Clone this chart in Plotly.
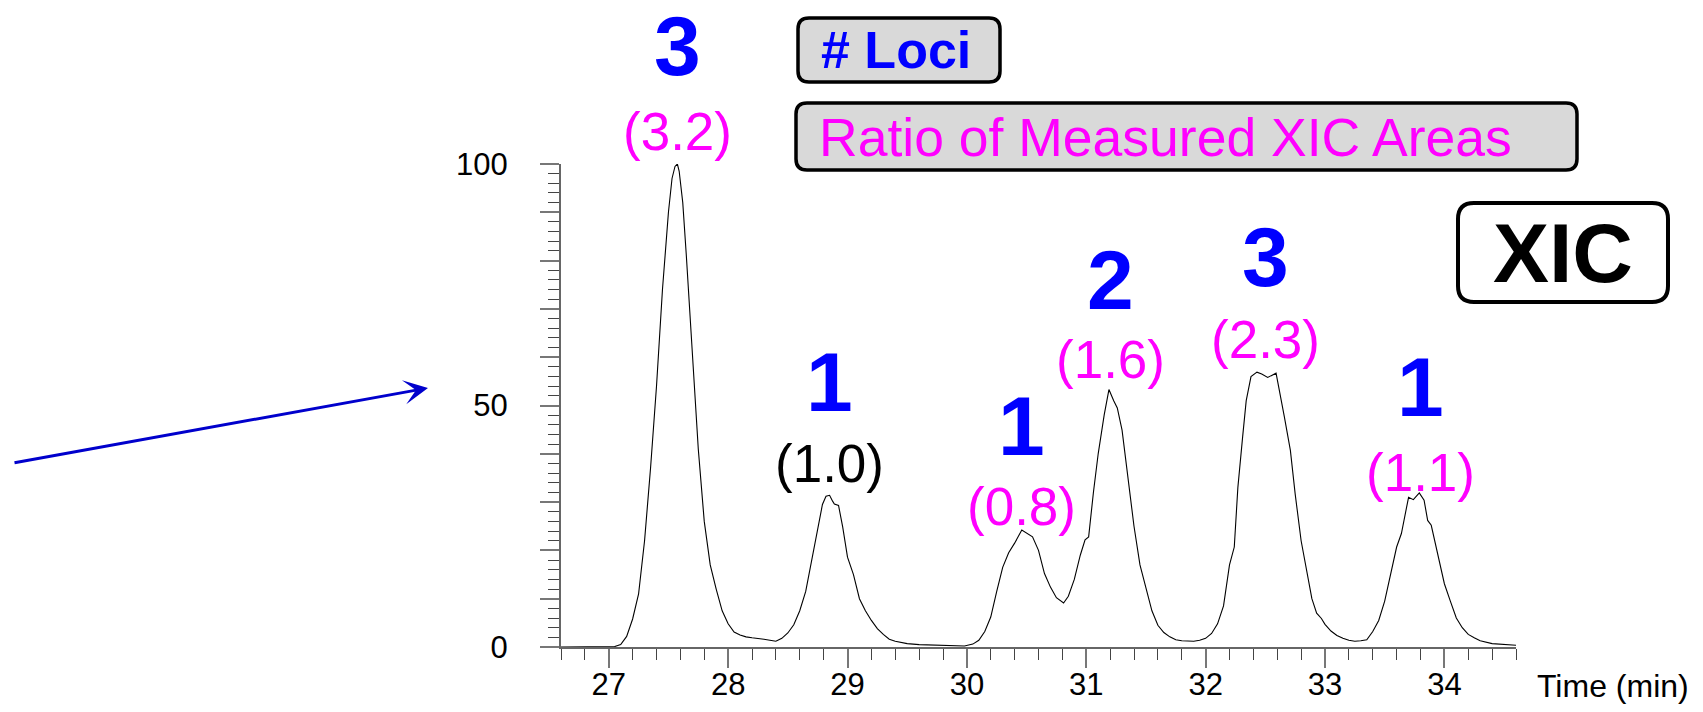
import plotly.graph_objects as go

# ---------------------------------------------------------------- data
time_min = [
    26.60, 26.70, 26.80, 26.90, 27.00, 27.05, 27.10, 27.15, 27.20, 27.25,
    27.30, 27.35, 27.40, 27.45, 27.50, 27.53, 27.555, 27.575, 27.59, 27.62,
    27.65, 27.70, 27.75, 27.80, 27.85, 27.90, 27.95, 28.00, 28.05, 28.10,
    28.15, 28.20, 28.25, 28.30, 28.35, 28.40, 28.45, 28.50, 28.55, 28.60,
    28.65, 28.70, 28.75, 28.79, 28.82, 28.85, 28.875, 28.89, 28.925, 28.96,
    29.00, 29.05, 29.10, 29.15, 29.20, 29.25, 29.30, 29.35, 29.40, 29.50,
    29.60, 29.70, 29.80, 29.90, 29.98, 30.05, 30.10, 30.15, 30.20, 30.25,
    30.30, 30.35, 30.40, 30.46, 30.50, 30.55, 30.60, 30.65, 30.70, 30.75,
    30.81, 30.85, 30.90, 30.95, 30.99, 31.02, 31.06, 31.10, 31.15, 31.19,
    31.23, 31.26, 31.30, 31.35, 31.40, 31.45, 31.50, 31.55, 31.60, 31.65,
    31.70, 31.75, 31.80, 31.85, 31.90, 31.95, 32.00, 32.05, 32.10, 32.15,
    32.20, 32.24, 32.27, 32.31, 32.34, 32.38, 32.43, 32.47, 32.52, 32.59,
    32.62, 32.66, 32.71, 32.75, 32.80, 32.86, 32.89, 32.93, 32.97, 33.00,
    33.05, 33.10, 33.15, 33.20, 33.25, 33.30, 33.35, 33.40, 33.45, 33.50,
    33.55, 33.60, 33.64, 33.70, 33.74, 33.79, 33.83, 33.86, 33.89, 33.95,
    34.00, 34.05, 34.10, 34.15, 34.20, 34.25, 34.30, 34.40, 34.50, 34.60,
]
intensity = [
    0.0, 0.0, 0.0, 0.0, 0.0, 0.1, 0.5, 2.2, 5.8, 11.0,
    22.0, 37.0, 54.0, 74.0, 90.0, 97.0, 99.5, 100.0, 98.5, 92.0,
    81.0, 60.0, 41.0, 26.0, 17.0, 12.0, 7.5, 4.8, 3.1, 2.5,
    2.1, 1.9, 1.8, 1.6, 1.4, 1.2, 1.8, 2.9, 4.6, 7.5,
    11.5, 18.0, 24.0, 29.5, 31.2, 31.4, 30.2, 29.6, 29.3, 24.8,
    18.6, 15.0, 10.0, 7.5, 5.5, 3.8, 2.6, 1.6, 1.2, 0.7,
    0.5, 0.4, 0.3, 0.25, 0.2, 0.6, 1.4, 3.2, 6.2, 11.5,
    16.5, 19.5, 21.5, 24.2, 23.6, 22.8, 20.0, 15.2, 12.4, 10.2,
    9.1, 10.5, 14.0, 19.0, 22.2, 22.8, 32.0, 40.0, 48.0, 53.3,
    51.0, 49.5, 44.9, 35.0, 25.0, 17.0, 12.5, 7.5, 4.5, 3.0,
    2.1, 1.5, 1.3, 1.2, 1.2, 1.4, 1.8, 2.8, 4.8, 8.5,
    17.0, 20.7, 33.0, 43.5, 51.0, 56.0, 56.9, 56.5, 55.8, 56.7,
    53.1, 47.6, 40.7, 31.7, 22.0, 14.0, 10.0, 7.0, 5.9, 4.7,
    3.3, 2.4, 1.8, 1.4, 1.2, 1.3, 1.5, 3.2, 5.5, 9.5,
    15.0, 20.7, 23.5, 31.0, 30.5, 31.9, 30.4, 26.2, 25.2, 18.5,
    13.1, 9.5, 6.0, 4.0, 2.6, 1.9, 1.3, 0.7, 0.45, 0.35,
]
assert len(time_min) == len(intensity)

# Peaks: retention time, number of genomic loci, ratio of measured XIC areas
peak_time = [27.575, 28.85, 30.46, 31.20, 32.50, 33.80]
loci_count = [3, 1, 1, 2, 3, 1]
area_ratio = [3.2, 1.0, 0.8, 1.6, 2.3, 1.1]
reference_peak = 1  # the peak every ratio is relative to

x_tick_vals = [27, 28, 29, 30, 31, 32, 33, 34]
y_tick_vals = [0, 10, 20, 30, 40, 50, 60, 70, 80, 90, 100]
y_tick_text = ["0", "", "", "", "", "50", "", "", "", "", "100"]

# ---------------------------------------------------------------- layout geometry (pixels)
W, H = 1703, 712
PL, PR, PT, PB = 561, 1516, 164, 647      # plot area edges

def px(xp):
    return (xp - PL) / (PR - PL)

def py(yp):
    return (PB - yp) / (PB - PT)

# vertical centres of the per-peak labels (pixels from top)
loci_label_y = [46, 382, 426, 280, 257, 387]
ratio_label_y = [131, 463, 506, 359, 339, 472]

FONT = "Liberation Sans, Arial, sans-serif"
BLUE = "#0000ff"
MAGENTA = "#ff00ff"


def rounded_box(x0, y0, x1, y1, r):
    """SVG path (paper coords) for a rounded rectangle given in pixels."""
    pts = [
        ("M", [(x0 + r, y0)]),
        ("L", [(x1 - r, y0)]),
        ("Q", [(x1, y0), (x1, y0 + r)]),
        ("L", [(x1, y1 - r)]),
        ("Q", [(x1, y1), (x1 - r, y1)]),
        ("L", [(x0 + r, y1)]),
        ("Q", [(x0, y1), (x0, y1 - r)]),
        ("L", [(x0, y0 + r)]),
        ("Q", [(x0, y0), (x0 + r, y0)]),
    ]
    out = []
    for cmd, coords in pts:
        out.append(cmd + " ".join(f"{px(a):.5f},{py(b):.5f}" for a, b in coords))
    return " ".join(out) + " Z"


fig = go.Figure()
fig.add_trace(go.Scatter(
    x=time_min, y=intensity, mode="lines",
    line=dict(color="black", width=1.1),
    hoverinfo="skip", showlegend=False,
))

axis_common = dict(
    showgrid=False, zeroline=False, showline=True, automargin=False,
    linecolor="#666666", linewidth=2,
    ticks="outside", ticklen=19, tickwidth=1.5, tickcolor="#777777",
    tickfont=dict(family=FONT, size=31, color="black"),
)

fig.update_xaxes(
    **axis_common,
    range=[26.6, 34.6],
    tickmode="array", tickvals=x_tick_vals,
    ticklabelstandoff=-10,
    minor=dict(ticks="outside", ticklen=11, tickwidth=1.3, tickcolor="#444444",
               tick0=27, dtick=0.2),
)
fig.update_yaxes(
    **axis_common,
    range=[0, 100],
    tickmode="array", tickvals=y_tick_vals, ticktext=y_tick_text,
    ticklabelstandoff=26,
    minor=dict(ticks="outside", ticklen=11, tickwidth=1.3, tickcolor="#444444",
               tick0=0, dtick=2),
)

annotations = []
for i, t in enumerate(peak_time):
    annotations.append(dict(
        x=t, xref="x", y=py(loci_label_y[i]), yref="paper",
        text=str(loci_count[i]), showarrow=False,
        xanchor="center", yanchor="middle", height=72, valign="middle",
        font=dict(family=FONT, size=84, color=BLUE, weight="bold"),
    ))
    annotations.append(dict(
        x=t, xref="x", y=py(ratio_label_y[i]), yref="paper",
        text=f"({area_ratio[i]:.1f})", showarrow=False,
        xanchor="center", yanchor="middle",
        font=dict(family=FONT, size=53,
                  color="black" if i == reference_peak else MAGENTA),
    ))

# legend-style captions
annotations += [
    dict(x=px(819), y=py(50), xref="paper", yref="paper", text="<b># Loci</b>",
         showarrow=False, xanchor="left", yanchor="middle",
         font=dict(family=FONT, size=52, color=BLUE)),
    dict(x=px(817), y=py(137), xref="paper", yref="paper",
         text="Ratio of Measured XIC Areas",
         showarrow=False, xanchor="left", yanchor="middle",
         font=dict(family=FONT, size=53.5, color=MAGENTA)),
    dict(x=px(1563), y=py(253), xref="paper", yref="paper", text="<b>XIC</b>",
         showarrow=False, xanchor="center", yanchor="middle",
         font=dict(family=FONT, size=84, color="black")),
    dict(x=px(1535), y=py(686), xref="paper", yref="paper", text="Time (min)",
         showarrow=False, xanchor="left", yanchor="middle",
         font=dict(family=FONT, size=32, color="black")),
    # pointer arrow on the left
    dict(x=px(428), y=py(388), xref="paper", yref="paper", text="",
         showarrow=True, ax=13 - 428, ay=463 - 388, axref="pixel", ayref="pixel",
         arrowhead=3, arrowsize=1.35, arrowwidth=3, arrowcolor="#0000cc",
         standoff=0, startstandoff=0),
]

shapes = [
    dict(type="path", xref="paper", yref="paper", path=rounded_box(798, 18, 1000, 82, 11),
         fillcolor="#d9d9d9", line=dict(color="black", width=3.5), layer="below"),
    dict(type="path", xref="paper", yref="paper", path=rounded_box(796, 103, 1577, 170, 11),
         fillcolor="#d9d9d9", line=dict(color="black", width=3.5), layer="below"),
    dict(type="path", xref="paper", yref="paper", path=rounded_box(1458, 203, 1668, 302, 16),
         fillcolor="white", line=dict(color="black", width=4), layer="below"),
]

fig.update_layout(
    width=W, height=H,
    margin=dict(l=PL, r=W - PR, t=PT, b=H - PB, pad=0, autoexpand=False),
    paper_bgcolor="white", plot_bgcolor="white",
    annotations=annotations, shapes=shapes,
    showlegend=False,
)

fig.write_html("out.html", config={"displayModeBar": False})
